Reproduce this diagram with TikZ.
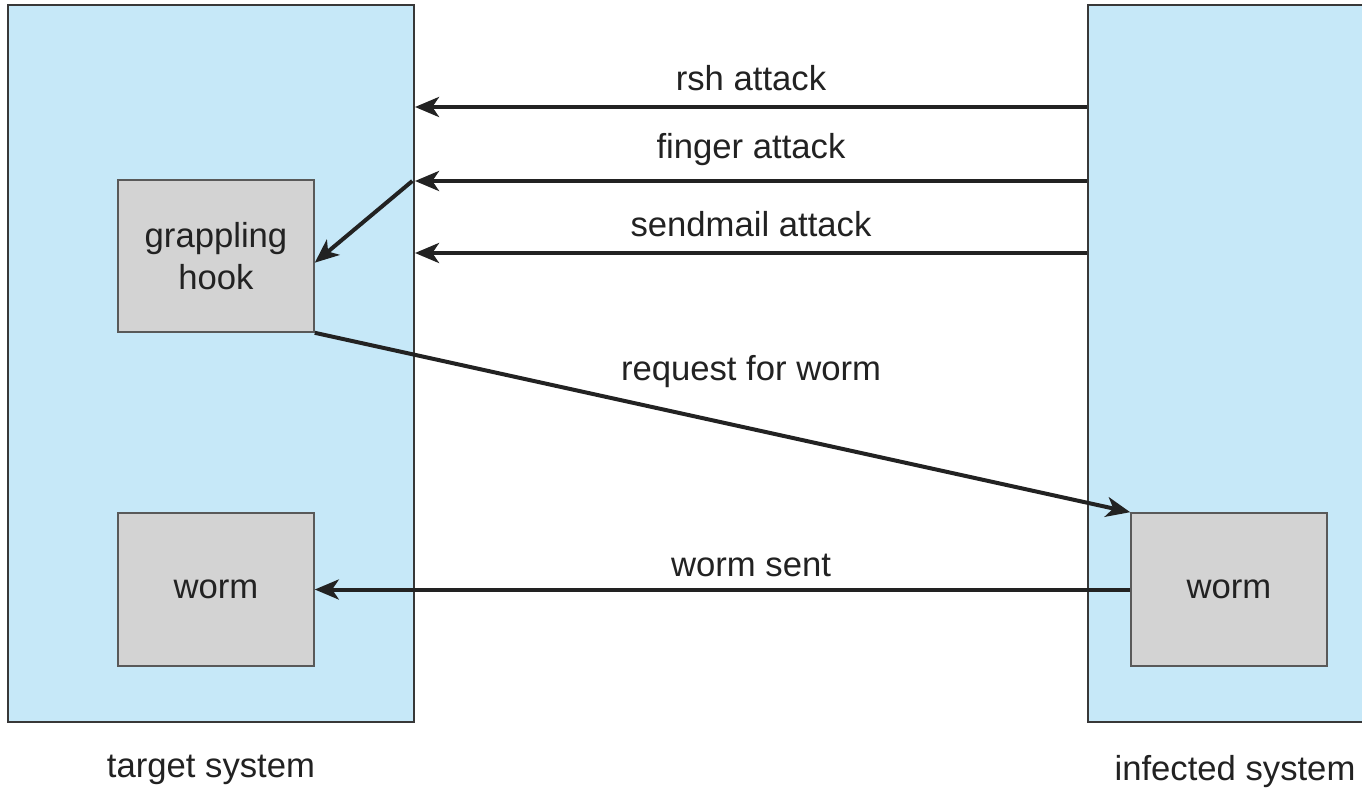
\documentclass[tikz,border=0pt]{standalone}
\usepackage{fontspec}
\setmainfont{Liberation Sans}
\usetikzlibrary{arrows.meta,positioning}
\definecolor{panelblue}{HTML}{C6E8F8}
\definecolor{boxgray}{HTML}{D3D3D3}
\definecolor{inkgray}{HTML}{222222}
\begin{document}
\begin{tikzpicture}
      [x = .75pt, y = -.75pt, line width = 3pt,
       panel/.style = {draw = inkgray!90, line width = 1.5pt, fill = panelblue, minimum height = 537.75pt},
       unit/.style = {draw = black!65, line width = 1.2pt, fill = boxgray, minimum width = 147pt,
         text = inkgray, align = center, font = \fontsize{26}{30}\selectfont},
       lbl/.style = {text = inkgray, font = \fontsize{26}{30}\selectfont},
       attack/.style = {draw = inkgray, -{Stealth[length = 18pt, width = 15pt, inset = 5pt]}}]
      \useasboundingbox[fill = white] (0,0) rectangle (1362,788);
      \node[panel, minimum width = 304.5pt] (tgt) at (211,363.5) {};
      \node[panel, minimum width = 220.5pt] (inf) at (1235,363.5) {};
      \node[unit, minimum height = 114pt] (hook) at (216,256) {grappling\\[2pt]hook};
      \node[unit, minimum height = 114.75pt] (tworm) at (216,589.5) {\raisebox{-3pt}{worm}};
      \node[unit, minimum height = 114.75pt] (iworm) at (1229,589.5) {\raisebox{-3pt}{worm}};
      \foreach \y/\txt/\nm in {107/rsh attack/rsh, 181/finger attack/finger, 253/sendmail attack/sendmail}
      {
        \coordinate (\nm) at (tgt.east |- 0,\y);
        \draw[attack] (inf.west |- 0,\y) -- (\nm)
          node[lbl, midway, above = 7pt] {\txt};
      }
      \draw[attack] ([xshift = -2pt]finger) -- ([yshift = -5pt]hook.east);
      \draw[attack] (hook.south east) -- (iworm.north west)
        node[lbl, pos = .535, yshift = 43pt] {request for worm};
      \draw[attack] (iworm.west) -- (tworm.east)
        node[lbl, pos = .465, above = 5pt] {worm sent};
      \node[lbl] (tgtname) at (tgt.south |- 0,770) {target system};
      \node[lbl] (infname) at (inf.south |- 0,772) {infected system};
    \end{tikzpicture}
\end{document}
